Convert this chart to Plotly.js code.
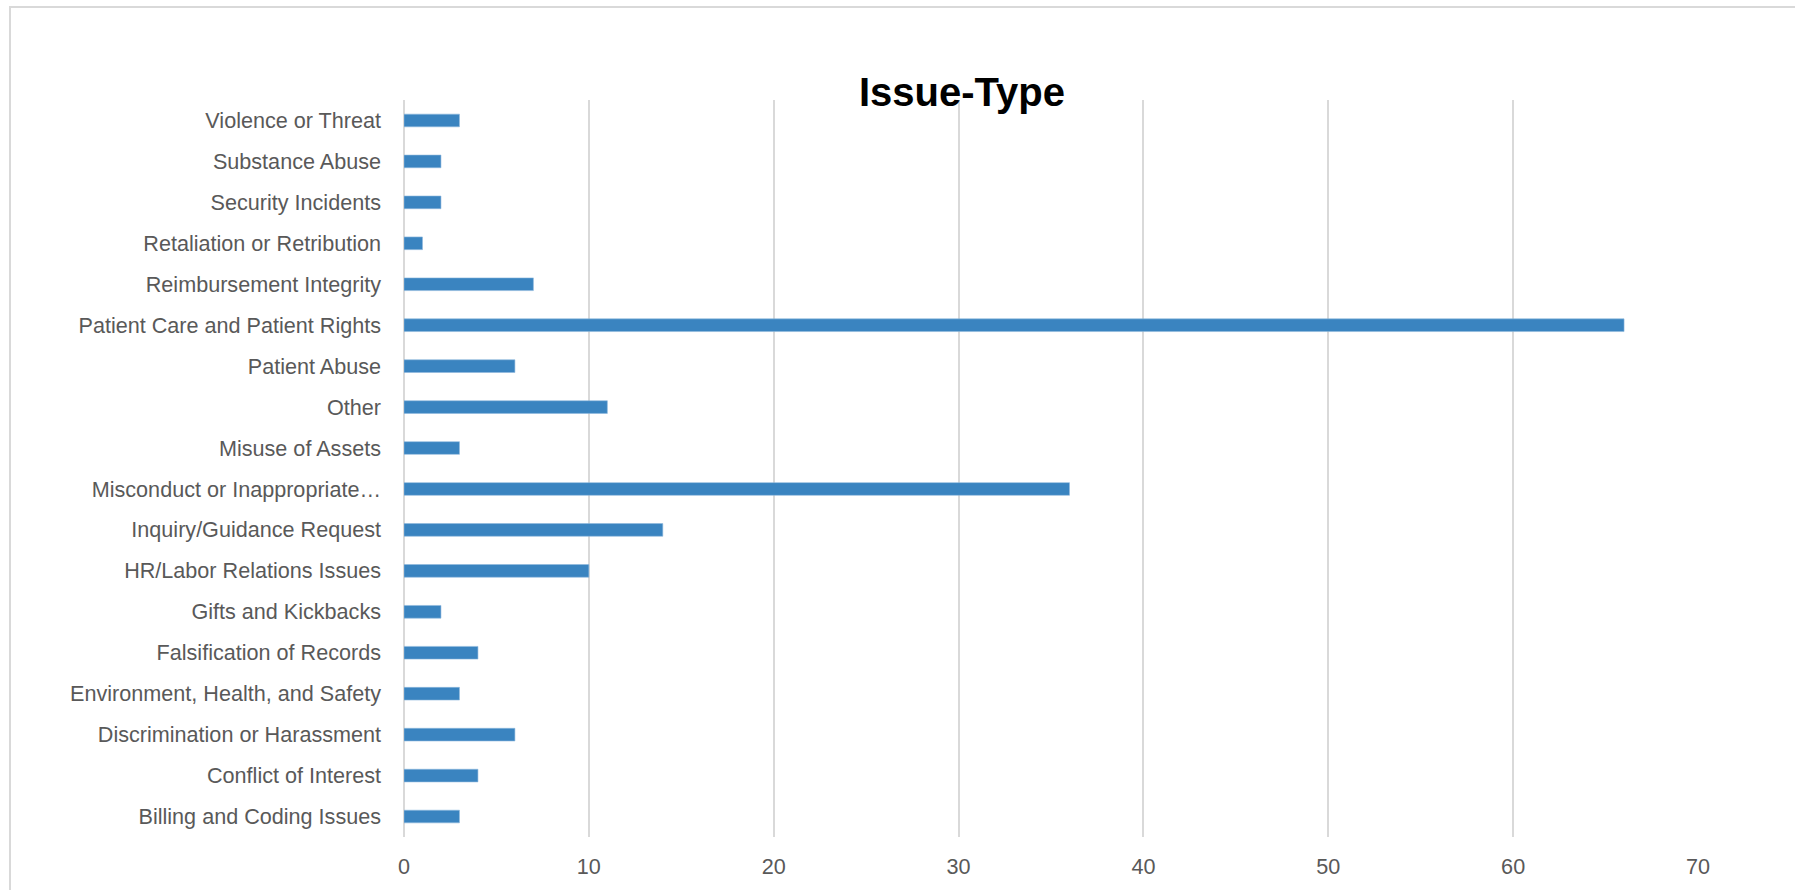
<!DOCTYPE html>
<html>
<head>
<meta charset="utf-8">
<script src="https://cdn.plot.ly/plotly-3.0.1.min.js"></script>
<style>
  html, body { margin: 0; padding: 0; background: #ffffff; }
  #chart { width: 1795px; height: 890px; position: absolute; left: 0; top: 0; }
  #frame { position: absolute; left: 9px; top: 6px; width: 1800px; height: 900px;
           border: 2px solid #d9d9d9; pointer-events: none; box-sizing: border-box; }
</style>
</head>
<body>
<div id="chart"></div>
<div id="frame"></div>
<script>
const categories = [
  "Billing and Coding Issues",
  "Conflict of Interest",
  "Discrimination or Harassment",
  "Environment, Health, and Safety",
  "Falsification of Records",
  "Gifts and Kickbacks",
  "HR/Labor Relations Issues",
  "Inquiry/Guidance Request",
  "Misconduct or Inappropriate…",
  "Misuse of Assets",
  "Other",
  "Patient Abuse",
  "Patient Care and Patient Rights",
  "Reimbursement Integrity",
  "Retaliation or Retribution",
  "Security Incidents",
  "Substance Abuse",
  "Violence or Threat"
];
const counts = [3, 4, 6, 3, 4, 2, 10, 14, 36, 3, 11, 6, 66, 7, 1, 2, 2, 3];
const xTicks = [0, 10, 20, 30, 40, 50, 60, 70];
const chartTitle = "Issue-Type";

const labelFont = { family: "Liberation Sans, Arial, sans-serif", size: 21.6, color: "#595959" };

const trace = {
  type: "bar",
  orientation: "h",
  y: categories,
  x: counts,
  marker: { color: "#3a84c0", line: { color: "#8fb9de", width: 0.6 } },
  hoverinfo: "x+y"
};

const layout = {
  width: 1795,
  height: 890,
  paper_bgcolor: "rgba(0,0,0,0)",
  plot_bgcolor: "rgba(0,0,0,0)",
  margin: { l: 404, r: 97, t: 100, b: 53, pad: 0 },
  bargap: 0.69,
  showlegend: false,
  title: {
    text: "<b>" + chartTitle + "</b>",
    font: { family: "Liberation Sans, Arial, sans-serif", size: 40, color: "#000000" },
    x: 962 / 1795,
    xanchor: "center",
    y: 1 - 92 / 890,
    yanchor: "middle"
  },
  xaxis: {
    range: [0, 70],
    tickvals: xTicks,
    ticktext: xTicks.map(String),
    showgrid: true,
    gridcolor: "#d9d9d9",
    gridwidth: 2,
    zeroline: true,
    zerolinecolor: "#d9d9d9",
    zerolinewidth: 2,
    showline: false,
    ticks: "",
    tickfont: labelFont,
    ticklabelstandoff: 14,
    fixedrange: true
  },
  yaxis: {
    type: "category",
    categoryorder: "array",
    categoryarray: categories,
    range: [-0.5, categories.length - 0.5],
    showgrid: false,
    zeroline: false,
    showline: false,
    ticks: "",
    tickfont: labelFont,
    ticklabelstandoff: 22,
    automargin: false,
    fixedrange: true
  }
};

Plotly.newPlot("chart", [trace], layout, { displayModeBar: false, staticPlot: true });
</script>
</body>
</html>
